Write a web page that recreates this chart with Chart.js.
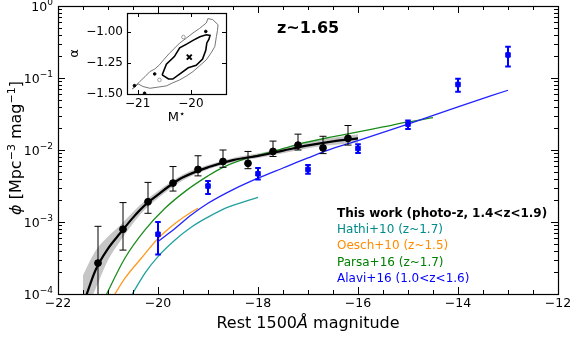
<!DOCTYPE html>
<html>
<head>
<meta charset="utf-8">
<script src="https://cdn.jsdelivr.net/npm/chart.js@4.4.0/dist/chart.umd.min.js"></script>
<style>
  html, body { margin: 0; padding: 0; background: #fff; }
  #wrap { position: relative; width: 581px; height: 339px; }
  #main { position: absolute; left: 0; top: 0; }
  #inset { position: absolute; left: 65px; top: 5px; }
</style>
</head>
<body>
<div id="wrap">
  <canvas id="main" width="581" height="339"></canvas>
  <canvas id="inset" width="170" height="125"></canvas>
</div>
<script>
// ---- this work: binned LF points (phi, upper / lower error ends)
const workMag = [-21.2, -20.7, -20.2, -19.7, -19.2, -18.7, -18.2, -17.7, -17.2, -16.7, -16.2];
const workPhi = [2.69e-4, 7.94e-4, 1.91e-3, 3.47e-3, 5.37e-3, 6.92e-3, 6.53e-3, 9.55e-3, 1.17e-2, 1.07e-2, 1.45e-2];
const workHi  = [8.71e-4, 1.86e-3, 3.55e-3, 5.89e-3, 8.32e-3, 1.0e-2, 9.55e-3, 1.33e-2, 1.66e-2, 1.55e-2, 2.19e-2];
const workLo  = [5.0e-5, 4.07e-4, 1.32e-3, 2.69e-3, 4.37e-3, 5.75e-3, 5.5e-3, 8.13e-3, 1.0e-2, 8.91e-3, 1.17e-2];

// ---- Alavi+16 points
const alaviMag = [-20, -19, -18, -17, -16, -15, -14, -13];
const alaviPhi = [6.76e-4, 3.16e-3, 4.68e-3, 5.37e-3, 1.05e-2, 2.29e-2, 8.13e-2, 0.209];
const alaviHi  = [1.0e-3, 3.72e-3, 5.62e-3, 6.17e-3, 1.2e-2, 2.57e-2, 9.77e-2, 0.272];
const alaviLo  = [3.55e-4, 2.45e-3, 3.89e-3, 4.68e-3, 9.12e-3, 1.95e-2, 6.46e-2, 0.144];

// ---- best-fit Schechter curve + uncertainty band (this work)
const fitMag = [-21.45, -21.25, -21.0, -20.75, -20.5, -20.25, -20.0, -19.75, -19.5, -19.0, -18.5, -18.0, -17.5, -17.0, -16.5, -16.0];
const fitPhi = [8.9e-5, 2.14e-4, 4.27e-4, 7.08e-4, 1.15e-3, 1.74e-3, 2.40e-3, 3.24e-3, 4.17e-3, 5.75e-3, 7.24e-3, 8.3e-3, 9.8e-3, 1.16e-2, 1.32e-2, 1.45e-2];
const bandMag = [-21.5, -21.25, -21.0, -20.75, -20.5, -20.25, -20.0, -19.5, -19.0, -18.5, -18.0, -17.5, -17.0, -16.5, -16.0];
const bandHi  = [1.82e-4, 3.98e-4, 6.31e-4, 9.12e-4, 1.38e-3, 2.0e-3, 2.69e-3, 4.57e-3, 6.17e-3, 7.76e-3, 8.91e-3, 1.06e-2, 1.27e-2, 1.48e-2, 1.66e-2];
const bandLo  = [5.0e-5, 1.17e-4, 2.95e-4, 5.5e-4, 9.55e-4, 1.51e-3, 2.14e-3, 3.80e-3, 5.37e-3, 6.76e-3, 7.76e-3, 9.02e-3, 1.06e-2, 1.17e-2, 1.26e-2];

// ---- literature curves
const hathiMag = [-20.6, -20.25, -20.0, -19.66, -19.33, -19.0, -18.66, -18.33, -18.0];
const hathiPhi = [7.9e-5, 2.0e-4, 3.31e-4, 5.62e-4, 8.51e-4, 1.17e-3, 1.55e-3, 1.86e-3, 2.19e-3];
const oeschMag = [-20.95, -20.66, -20.33, -20.0, -19.66, -19.33, -19.2];
const oeschPhi = [7.9e-5, 1.66e-4, 3.16e-4, 5.89e-4, 9.55e-4, 1.38e-3, 1.55e-3];
const parsaMag = [-21.1, -20.66, -20.26, -19.86, -19.43, -19.0, -18.7, -18.15, -17.75, -17.2, -16.6, -16.15, -15.5, -15.0, -14.5];
const parsaPhi = [7.9e-5, 3.16e-4, 7.76e-4, 1.55e-3, 2.75e-3, 4.37e-3, 5.75e-3, 7.94e-3, 9.33e-3, 1.2e-2, 1.48e-2, 1.7e-2, 2.09e-2, 2.45e-2, 2.82e-2];
const alaviFitMag = [-20.0, -19.66, -19.33, -19.0, -18.5, -18.0, -17.5, -17.0, -16.5, -16.0, -15.0, -14.0, -13.0];
const alaviFitPhi = [5.37e-4, 8.13e-4, 1.26e-3, 1.82e-3, 2.82e-3, 4.07e-3, 5.62e-3, 7.76e-3, 1.05e-2, 1.35e-2, 2.29e-2, 3.98e-2, 6.76e-2];

// ---- axis ticks
const xTicks = [-22, -20, -18, -16, -14, -12];
const xTickLabels = ["\u221222", "\u221220", "\u221218", "\u221216", "\u221214", "\u221212"];
const yTicks = [1e-4, 1e-3, 1e-2, 1e-1, 1];
const yTickExps = ["\u22124", "\u22123", "\u22122", "\u22121", "0"];

const legendNames = ["This work (photo-z, 1.4<z<1.9)", "Hathi+10 (z~1.7)", "Oesch+10 (z~1.5)", "Parsa+16 (z~1.7)", "Alavi+16 (1.0<z<1.6)"];
const legendColors = ["#000", "darkcyan", "darkorange", "green", "blue"];

// ---- inset: M* / alpha confidence contours
const innerM = [-20.54, -20.46, -20.31, -20.21, -20.08, -19.96, -19.83, -19.71, -19.64, -19.66, -19.70, -19.72, -19.78, -19.90, -20.05, -20.18, -20.34, -20.42, -20.54];
const innerA = [-1.347, -1.26, -1.20, -1.13, -1.10, -1.07, -1.04, -1.025, -1.03, -1.06, -1.09, -1.15, -1.22, -1.27, -1.29, -1.33, -1.38, -1.38, -1.347];
const outerM = [-21.10, -20.96, -20.86, -20.77, -20.68, -20.59, -20.50, -20.40, -20.30, -20.21, -20.08, -19.96, -19.84, -19.71, -19.68, -19.59, -19.49, -19.50, -19.52, -19.55, -19.62, -19.71, -19.84, -19.96, -20.08, -20.21, -20.34, -20.46, -20.62, -20.77, -20.90, -20.99, -21.10];
const outerA = [-1.46, -1.40, -1.36, -1.32, -1.30, -1.266, -1.22, -1.172, -1.13, -1.091, -1.05, -1.01, -0.975, -0.930, -0.895, -0.903, -0.944, -0.99, -1.038, -1.119, -1.17, -1.226, -1.275, -1.32, -1.355, -1.387, -1.41, -1.435, -1.445, -1.454, -1.44, -1.419, -1.46];
const bestM = [-20.03];
const bestA = [-1.204];
const dotM = [-19.72, -20.68, -21.06, -20.87];
const dotA = [-0.998, -1.339, -1.433, -1.494];
const ringM = [-20.14, -20.59];
const ringA = [-1.043, -1.387];
const insetXTicks = [-21, -20];
const insetXLabels = ["\u221221", "\u221220"];
const insetYTicks = [-1.5, -1.25, -1.0];
const insetYLabels = ["\u22121.50", "\u22121.25", "\u22121.00"];

const FONT = "'DejaVu Sans', sans-serif";
const pts = (xs, ys) => xs.map((x, i) => ({ x, y: ys[i] }));

function curve(mag, phi, color, width, order) {
  return {
    data: pts(mag, phi), showLine: true, borderColor: color, borderWidth: width,
    pointRadius: 0, cubicInterpolationMode: "monotone", fill: false, order
  };
}

// draws runs of text (normal / superscript) left to right, optionally centred
function drawRuns(ctx, runs, x, y, center) {
  let total = 0;
  runs.forEach((r) => { ctx.font = r.font; r.w = ctx.measureText(r.t).width; total += r.w; });
  let cx = center ? x - total / 2 : x;
  ctx.textAlign = "left";
  runs.forEach((r) => {
    ctx.font = r.font;
    ctx.fillText(r.t, cx, y + (r.dy || 0));
    cx += r.w;
  });
}

// inward ticks on all four sides, frame and tick labels
const frameTicks = {
  id: "frameTicks",
  afterDraw(chart, args, o) {
    const { ctx, chartArea: a, scales } = chart;
    const sx = scales.x, sy = scales.y;
    ctx.save();
    ctx.strokeStyle = "#000";
    ctx.fillStyle = "#000";
    ctx.lineWidth = 1;
    const xt = (vals, len) => vals.forEach((v) => {
      const p = Math.round(sx.getPixelForValue(v)) + 0.5;
      ctx.beginPath();
      ctx.moveTo(p, a.bottom); ctx.lineTo(p, a.bottom - len);
      ctx.moveTo(p, a.top); ctx.lineTo(p, a.top + len);
      ctx.stroke();
    });
    const yt = (vals, len) => vals.forEach((v) => {
      const p = Math.round(sy.getPixelForValue(v)) + 0.5;
      ctx.beginPath();
      ctx.moveTo(a.left, p); ctx.lineTo(a.left + len, p);
      ctx.moveTo(a.right, p); ctx.lineTo(a.right - len, p);
      ctx.stroke();
    });
    xt(o.xMajor, o.majorLen); xt(o.xMinor, o.minorLen);
    yt(o.yMajor, o.majorLen); yt(o.yMinor, o.minorLen);

    ctx.lineWidth = o.lineWidth;
    ctx.strokeRect(Math.round(a.left) + 0.5, Math.round(a.top) + 0.5,
      Math.round(a.right - a.left), Math.round(a.bottom - a.top));

    ctx.font = o.font;
    ctx.textAlign = "center";
    ctx.textBaseline = "middle";
    o.xMajor.forEach((v, i) => ctx.fillText(o.xLabels[i], sx.getPixelForValue(v), a.bottom + o.xPad));

    o.yMajor.forEach((v, i) => {
      const p = sy.getPixelForValue(v);
      const xr = a.left - o.yPad;
      if (o.yExps) {
        ctx.font = o.expFont;
        ctx.textAlign = "right";
        const ew = ctx.measureText(o.yExps[i]).width;
        ctx.fillText(o.yExps[i], xr, p - 3);
        ctx.font = o.font;
        ctx.fillText("10", xr - ew, p + 2);
      } else {
        ctx.textAlign = "right";
        ctx.fillText(o.yLabels[i], xr, p);
      }
    });
    ctx.restore();
  }
};

// error bars drawn just before the point markers of a dataset
const errorBars = {
  id: "errorBars",
  beforeDatasetDraw(chart, args) {
    const ds = chart.data.datasets[args.index];
    if (!ds.errHi) return;
    const { ctx, chartArea: a, scales: { x, y } } = chart;
    ctx.save();
    ctx.beginPath();
    ctx.rect(a.left, a.top, a.right - a.left, a.bottom - a.top);
    ctx.clip();
    ctx.strokeStyle = ds.borderColor;
    ctx.lineWidth = ds.errWidth;
    ds.data.forEach((d, i) => {
      const px = x.getPixelForValue(d.x);
      const ph = y.getPixelForValue(ds.errHi[i]);
      const pl = y.getPixelForValue(ds.errLo[i]);
      ctx.beginPath();
      ctx.moveTo(px, ph); ctx.lineTo(px, pl);
      ctx.moveTo(px - ds.capHalf, ph); ctx.lineTo(px + ds.capHalf, ph);
      ctx.moveTo(px - ds.capHalf, pl); ctx.lineTo(px + ds.capHalf, pl);
      ctx.stroke();
    });
    ctx.restore();
  }
};

// axis titles, redshift tag and the text legend
const annotations = {
  id: "annotations",
  afterDraw(chart) {
    const { ctx, chartArea: a } = chart;
    ctx.save();
    ctx.fillStyle = "#000";
    ctx.textBaseline = "alphabetic";
    drawRuns(ctx, [
      { t: "Rest 1500", font: "16px " + FONT },
      { t: "\u00c5", font: "italic 16px " + FONT },
      { t: " magnitude", font: "16px " + FONT }
    ], (a.left + a.right) / 2, 328, true);

    ctx.save();
    ctx.translate(21, (a.top + a.bottom) / 2 - 2);
    ctx.rotate(-Math.PI / 2);
    drawRuns(ctx, [
      { t: "\u03d5", font: "italic 16px " + FONT },
      { t: " [Mpc", font: "16px " + FONT },
      { t: "\u22123", font: "11px " + FONT, dy: -6 },
      { t: " mag", font: "16px " + FONT },
      { t: "\u22121", font: "11px " + FONT, dy: -6 },
      { t: "]", font: "16px " + FONT }
    ], 0, 0, true);
    ctx.restore();

    ctx.font = "bold 16px " + FONT;
    ctx.textAlign = "left";
    ctx.fillText("z~1.65", 277, 33);

    ctx.textBaseline = "middle";
    legendNames.forEach((name, i) => {
      ctx.font = (i === 0 ? "bold " : "") + "12px " + FONT;
      ctx.fillStyle = legendColors[i];
      ctx.fillText(name, 337, 213.5 + i * 16.4);
    });
    ctx.restore();
  }
};

const xMinor = [];
for (let v = -22; v <= -12; v += 0.5) if (v % 2 !== 0) xMinor.push(v);
const yMinor = [];
for (let e = -4; e < 0; e++) for (let k = 2; k <= 9; k++) yMinor.push(k * Math.pow(10, e));

new Chart(document.getElementById("main"), {
  type: "scatter",
  data: {
    datasets: [
      {
        data: pts(workMag, workPhi), backgroundColor: "#000", borderColor: "#000",
        pointRadius: 3.4, pointStyle: "circle", order: 0,
        errHi: workHi, errLo: workLo, errWidth: 1, capHalf: 3.5
      },
      {
        data: pts(alaviMag, alaviPhi), backgroundColor: "#0000ff", borderColor: "#0000ff",
        pointRadius: 3.2, pointStyle: "rect", order: 1,
        errHi: alaviHi, errLo: alaviLo, errWidth: 2, capHalf: 2.8
      },
      curve(fitMag, fitPhi, "#000", 2.2, 2),
      curve(alaviFitMag, alaviFitPhi, "#2222ff", 1.3, 3),
      curve(parsaMag, parsaPhi, "#1c8c1c", 1.3, 4),
      curve(oeschMag, oeschPhi, "#ff9a1f", 1.3, 5),
      curve(hathiMag, hathiPhi, "#22a0a0", 1.3, 6),
      {
        data: pts(bandMag, bandHi), showLine: true, borderWidth: 0, borderColor: "rgba(0,0,0,0)",
        pointRadius: 0, fill: "+1", backgroundColor: "#c6c6c6", cubicInterpolationMode: "monotone", order: 8
      },
      {
        data: pts(bandMag, bandLo), showLine: true, borderWidth: 0, borderColor: "rgba(0,0,0,0)",
        pointRadius: 0, fill: false, cubicInterpolationMode: "monotone", order: 9
      }
    ]
  },
  options: {
    responsive: false,
    animation: false,
    events: [],
    layout: { padding: { left: 58, right: 23, top: 6, bottom: 45 } },
    scales: {
      x: { type: "linear", min: -22, max: -12, display: false },
      y: { type: "logarithmic", min: 1e-4, max: 1, display: false }
    },
    plugins: {
      legend: { display: false },
      tooltip: { enabled: false },
      frameTicks: {
        xMajor: xTicks, xMinor, xLabels: xTickLabels,
        yMajor: yTicks, yMinor, yExps: yTickExps,
        majorLen: 7, minorLen: 4, lineWidth: 1.2,
        font: "12.5px " + FONT, expFont: "9px " + FONT, xPad: 10, yPad: 5
      }
    }
  },
  plugins: [errorBars, frameTicks, annotations]
});

// inset axis titles
const insetTitles = {
  id: "insetTitles",
  afterDraw(chart) {
    const { ctx, chartArea: a } = chart;
    ctx.save();
    ctx.fillStyle = "#000";
    ctx.textBaseline = "middle";
    drawRuns(ctx, [
      { t: "M", font: "13px " + FONT },
      { t: "\u22c6", font: "10px " + FONT, dy: -4 }
    ], (a.left + a.right) / 2, 113, true);
    ctx.translate(10, (a.top + a.bottom) / 2);
    ctx.rotate(-Math.PI / 2);
    ctx.textAlign = "center";
    ctx.font = "13px " + FONT;
    ctx.fillText("\u03b1", 0, 0);
    ctx.restore();
  }
};

const insetBg = {
  id: "insetBg",
  beforeDraw(chart) {
    const { ctx, chartArea: a } = chart;
    ctx.save();
    ctx.fillStyle = "#fff";
    ctx.fillRect(a.left, a.top, a.right - a.left, a.bottom - a.top);
    ctx.restore();
  }
};

new Chart(document.getElementById("inset"), {
  type: "scatter",
  data: {
    datasets: [
      {
        data: pts(bestM, bestA), pointStyle: "crossRot", pointRadius: 3.5,
        borderColor: "#000", borderWidth: 2
      },
      { data: pts(dotM, dotA), pointRadius: 1.3, backgroundColor: "#000", borderColor: "#000" },
      { data: pts(ringM, ringA), pointRadius: 1.8, backgroundColor: "#fff", borderColor: "#888", borderWidth: 0.8 },
      {
        data: pts(innerM, innerA), showLine: true, borderColor: "#000", borderWidth: 1.6,
        pointRadius: 0, tension: 0
      },
      {
        data: pts(outerM, outerA), showLine: true, borderColor: "#666", borderWidth: 0.9,
        pointRadius: 0, tension: 0
      }
    ]
  },
  options: {
    responsive: false,
    animation: false,
    events: [],
    layout: { padding: { left: 62, right: 9, top: 8, bottom: 36 } },
    scales: {
      x: { type: "linear", min: -21.2, max: -19.34, display: false },
      y: { type: "linear", min: -1.5, max: -0.85, display: false }
    },
    plugins: {
      legend: { display: false },
      tooltip: { enabled: false },
      frameTicks: {
        xMajor: insetXTicks, xMinor: [], xLabels: insetXLabels,
        yMajor: insetYTicks, yMinor: [], yLabels: insetYLabels,
        majorLen: 4, minorLen: 2, lineWidth: 1.2,
        font: "12px " + FONT, xPad: 10, yPad: 4
      }
    }
  },
  plugins: [insetBg, frameTicks, insetTitles]
});
</script>
</body>
</html>
